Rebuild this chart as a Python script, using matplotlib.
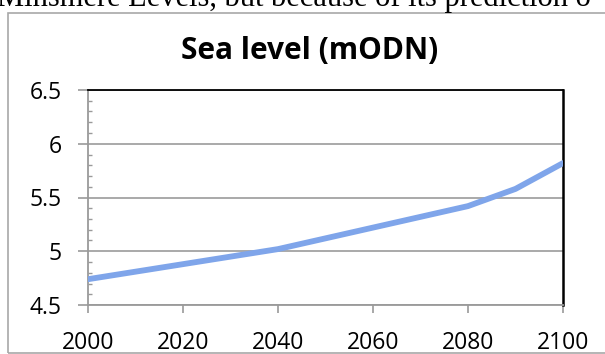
import matplotlib
matplotlib.use('Agg')
import matplotlib.pyplot as plt
from matplotlib.patches import Rectangle
from matplotlib.ticker import MultipleLocator

# sea level projection
years = [2000, 2010, 2020, 2030, 2040, 2050, 2060, 2070, 2080, 2090, 2100]
sea_level = [4.74, 4.81, 4.88, 4.95, 5.02, 5.12, 5.22, 5.32, 5.42, 5.58, 5.82]
x_ticks = [2000, 2020, 2040, 2060, 2080, 2100]
y_ticks = [4.5, 5, 5.5, 6, 6.5]
y_labels = ['4.5', '5', '5.5', '6', '6.5']

W, H = 605, 354
fig = plt.figure(figsize=(W / 100, H / 100), dpi=100)
fig.patch.set_facecolor('white')

# scanned text line above the chart, cut by the top edge
fig.text(-3 / W, 1 - 6 / H, 'Minsmere Levels, but because of its prediction o',
         family='Liberation Serif', fontsize=22, va='baseline', ha='left')

# outer chart frame
fig.add_artist(Rectangle((8 / W, 1 / H), 1.2, 1 - 14 / H, transform=fig.transFigure,
                         fill=False, edgecolor='#a8a8a8', lw=1.2))

ax = fig.add_axes([88 / W, 1 - 305 / H, (563 - 88) / W, (305 - 90) / H])
ax.plot(years, sea_level, color='#7fa5ea', lw=4.2, solid_capstyle='round', zorder=3)

ax.set_xlim(2000, 2100)
ax.set_ylim(4.5, 6.5)
ax.set_xticks(x_ticks)
ax.set_xticklabels([str(x) for x in x_ticks])
ax.set_yticks(y_ticks)
ax.set_yticklabels(y_labels)
ax.yaxis.set_minor_locator(MultipleLocator(0.1))

ax.grid(axis='y', which='major', color='#a3a3a3', lw=1.3)
ax.set_axisbelow(True)

for side in ['left', 'bottom']:
    ax.spines[side].set_color('#9a9a9a')
    ax.spines[side].set_linewidth(1.3)
ax.spines['top'].set_color('black')
ax.spines['top'].set_linewidth(1.3)
ax.spines['right'].set_color('black')
ax.spines['right'].set_linewidth(1.8)

ax.tick_params(axis='y', which='major', direction='out', length=7, width=1.2,
               color='#9a9a9a', pad=12, labelsize=16.5)
ax.tick_params(axis='y', which='minor', direction='in', length=3, width=1,
               color='#9a9a9a')
ax.tick_params(axis='x', which='major', direction='out', length=6, width=1.2,
               color='#9a9a9a', pad=13, labelsize=16.5)
for lab in ax.get_xticklabels() + ax.get_yticklabels():
    lab.set_family('Open Sans')

fig.text(310 / W, 1 - 51 / H, 'Sea level (mODN)', family='Open Sans', fontweight='bold',
         fontsize=21.5, ha='center', va='center')

fig.savefig('out.png', dpi=100)
